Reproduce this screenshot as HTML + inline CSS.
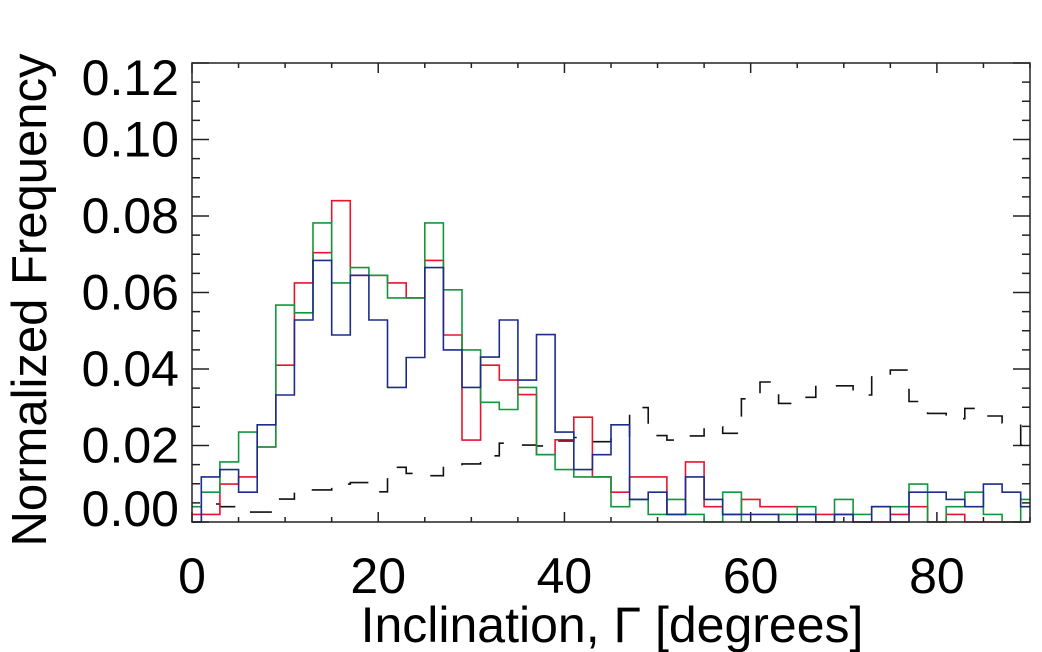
<!DOCTYPE html>
<html><head><meta charset="utf-8"><style>
html,body{margin:0;padding:0;background:#fff;}
svg{display:block;font-family:"Liberation Sans",sans-serif;}
</style></head><body>
<svg id="chart" width="1042" height="652" viewBox="0 0 1042 652">
<g id="ticks"></g>
<g id="series"></g>
<rect x="192" y="63" width="838" height="459" fill="none" stroke="#222" stroke-width="1.5"/>
<g id="labels"></g>
<text x="612" y="642" text-anchor="middle" font-size="50">Inclination, Γ [degrees]</text>
<text transform="translate(46,300) rotate(-90)" text-anchor="middle" font-size="49">Normalized Frequency</text>
</svg>
<script>
const binCenters = [0,2,4,6,8,10,12,14,16,18,20,22,24,26,28,30,32,34,36,38,40,42,44,46,48,50,52,54,56,58,60,62,64,66,68,70,72,74,76,78,80,82,84,86,88,90];
const redValues = [.002,.002,.0099,.0118,.0196,.041,.0625,.0704,.084,.0645,.0645,.0625,.0586,.0684,.0489,.0214,.041,.0371,.0333,.0176,.0215,.0274,.0118,.0078,.0118,.0118,.002,.0157,.004,.002,.0059,.004,.004,.002,.002,.002,0,0,.002,.004,0,.002,0,0,0,0];
const blueValues = [0,.0118,.0137,.0078,.0254,.0332,.0528,.0684,.0489,.0645,.0528,.0352,.043,.0665,.045,.0352,.0431,.0528,.0371,.049,.0235,.0137,.0176,.0254,.0059,.0078,.002,.0118,.0059,.002,.002,.002,0,.002,0,.002,0,.004,0,.0078,.0078,.0059,.004,.0099,.0078,.004];
const greenValues = [.004,.0078,.0157,.0235,.0196,.0567,.0547,.0782,.0625,.0665,.0645,.0586,.0586,.0782,.0607,.045,.0313,.0294,.0352,.0176,.0137,.0118,.0118,.004,.0059,.002,.0059,.002,0,.0078,0,0,.002,.004,0,.0059,.002,.004,.004,.0099,0,.004,.0078,.002,0,.0059];
const blackValues = [0,.0047,.004,.0026,.0026,.006,.0084,.0084,.0099,.0103,.0079,.0143,.0127,.0121,.0147,.0152,.0173,.0206,.0201,.0199,.0212,.0221,.021,.0219,.0299,.0226,.0214,.0225,.0249,.0232,.0322,.0366,.031,.0326,.0354,.0356,.0332,.0384,.0397,.0315,.0284,.027,.0297,.0277,.0259,.0201];
const xTickLabels = ["0","20","40","60","80"];
const xTickValues = [0,20,40,60,80];
const yTickLabels = ["0.00","0.02","0.04","0.06","0.08","0.10","0.12"];
const yTickValues = [0,0.02,0.04,0.06,0.08,0.10,0.12];

const X0=192,X1=1030,Y0=522,Y1=63;
const xs = v => X0 + (v/90)*(X1-X0);
const ys = v => Y0 - (v/0.12)*(Y0-Y1);
const NS='http://www.w3.org/2000/svg';
const mk = t => document.createElementNS(NS,t);

function stepPath(vals){
  let d='';
  for(let i=0;i<binCenters.length;i++){
    const a=xs(Math.max(0,binCenters[i]-1)), b=xs(Math.min(90,binCenters[i]+1)), y=ys(vals[i]);
    d += (i===0?'M':'L')+a.toFixed(1)+','+y.toFixed(1)+'L'+b.toFixed(1)+','+y.toFixed(1);
  }
  return d;
}
const series=document.getElementById('series');
function addSeries(vals,color,name,dash){
  const p=mk('path');
  p.setAttribute('d',stepPath(vals));
  p.setAttribute('fill','none');
  p.setAttribute('stroke',color);
  p.setAttribute('stroke-width','1.6');
  if(dash) p.setAttribute('stroke-dasharray',dash);
  
  
  series.appendChild(p);
}
addSeries(blackValues,'#111','series-black-dashed','22,20');
addSeries(redValues,'#e8142f','series-red');
addSeries(greenValues,'#10983c','series-green');
addSeries(blueValues,'#1c2c8c','series-blue');

const ticks=document.getElementById('ticks');
function line(x1,y1,x2,y2,name){
  const l=mk('line');
  l.setAttribute('x1',x1);l.setAttribute('y1',y1);l.setAttribute('x2',x2);l.setAttribute('y2',y2);
  l.setAttribute('stroke','#222');l.setAttribute('stroke-width','1.5');
  
  
  ticks.appendChild(l);
}
for(let v=0;v<=90;v+=5){
  const x=xs(v), len=(v%20===0)?10:5;
  line(x,Y0,x,Y0-len,'x-tick');
  line(x,Y1,x,Y1+len,'x-tick-top');
}
for(let k=0;k<=24;k++){
  const v=k*0.005, y=ys(v), len=(k%4===0)?17:8;
  line(X0,y,X0+len,y,'y-tick');
  line(X1,y,X1-len,y,'y-tick-right');
}
const labels=document.getElementById('labels');
xTickLabels.forEach((s,i)=>{
  const t=mk('text');
  t.setAttribute('x',xs(xTickValues[i]));t.setAttribute('y',593);
  t.setAttribute('text-anchor','middle');t.setAttribute('font-size','50');
  t.textContent=s;
  
  
  labels.appendChild(t);
});
yTickLabels.forEach((s,i)=>{
  const t=mk('text');
  let y=ys(yTickValues[i])+17;
  if(i===0) y=ys(yTickValues[i])+4;
  if(i===6) y=ys(yTickValues[i])+32;
  t.setAttribute('x',179);t.setAttribute('y',y);
  t.setAttribute('text-anchor','end');t.setAttribute('font-size','50');
  t.textContent=s;
  
  
  labels.appendChild(t);
});
</script>
</body></html>
